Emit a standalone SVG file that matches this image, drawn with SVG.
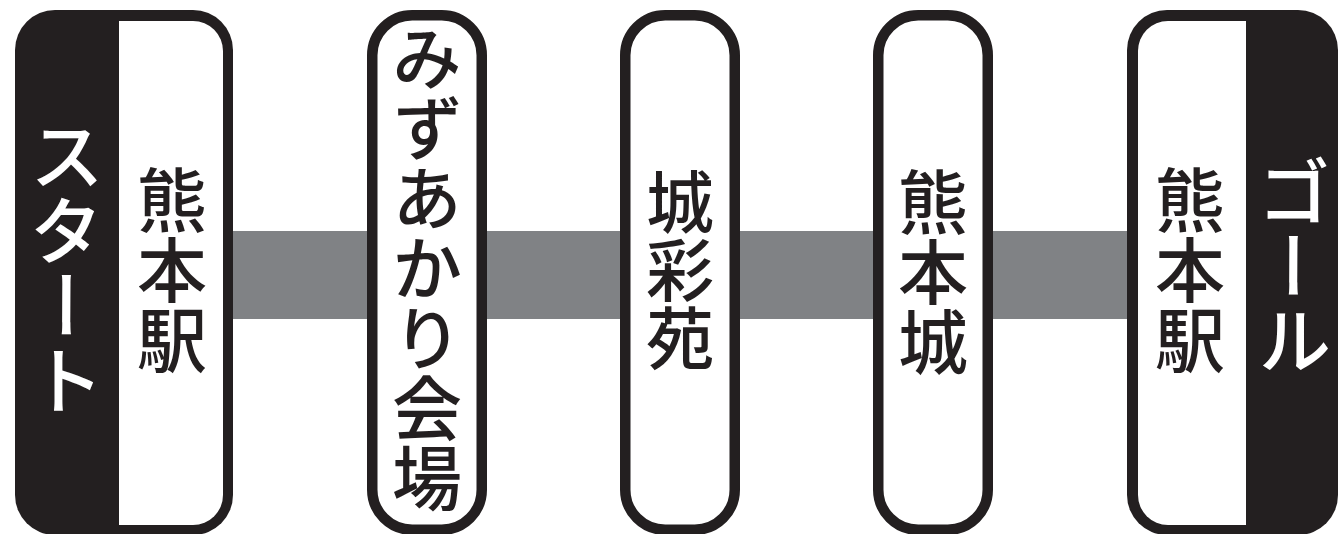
<svg xmlns="http://www.w3.org/2000/svg" width="1338" height="534" viewBox="0 0 1338 534">
<style>
.blk{fill:#231f20}
.wht{fill:#ffffff}
.frame{fill:#ffffff;stroke:#231f20;stroke-width:10.5}
.bar{fill:#808285}
.v{font-family:"Noto Sans CJK JP","Noto Sans CJK SC",sans-serif;writing-mode:vertical-rl;text-anchor:middle;font-weight:500}
.dk{fill:#231f20}
.lt{fill:#ffffff}
</style>
<rect width="1338" height="534" fill="#ffffff"/>
<g id="connectors">
<rect class="bar" x="230" y="231" width="900" height="88"/>
</g>
<g id="start">
<rect class="blk" x="15" y="10" width="218" height="525" rx="40" ry="40"/>
<path class="wht" d="M119,21 H193 A30,30 0 0 1 223,51 V495 A30,30 0 0 1 193,525 H119 Z"/>
<text class="v lt" x="67" y="268" font-size="75">スタート</text>
<text class="v dk" x="172" y="270" font-size="70">熊本駅</text>
</g>
<g id="mizuakari">
<rect class="frame" x="372.25" y="15.25" width="109.5" height="514.5" rx="40" ry="40"/>
<text class="v dk" x="427" y="268" font-size="70">みずあかり会場</text>
</g>
<g id="josaien">
<rect class="frame" x="625.25" y="15.25" width="109.5" height="514.5" rx="40" ry="40"/>
<text class="v dk" x="680" y="270" font-size="68">城彩苑</text>
</g>
<g id="kumamotojo">
<rect class="frame" x="878.25" y="15.25" width="109.5" height="514.5" rx="40" ry="40"/>
<text class="v dk" x="933" y="272" font-size="70">熊本城</text>
</g>
<g id="goal">
<rect class="blk" x="1127" y="10" width="211" height="525" rx="40" ry="40"/>
<path class="wht" d="M1246,21 H1168 A30,30 0 0 0 1138,51 V495 A30,30 0 0 0 1168,525 H1246 Z"/>
<text class="v dk" x="1190" y="270" font-size="70">熊本駅</text>
<text class="v lt" x="1294" y="266" font-size="74">ゴール</text>
</g>
</svg>
